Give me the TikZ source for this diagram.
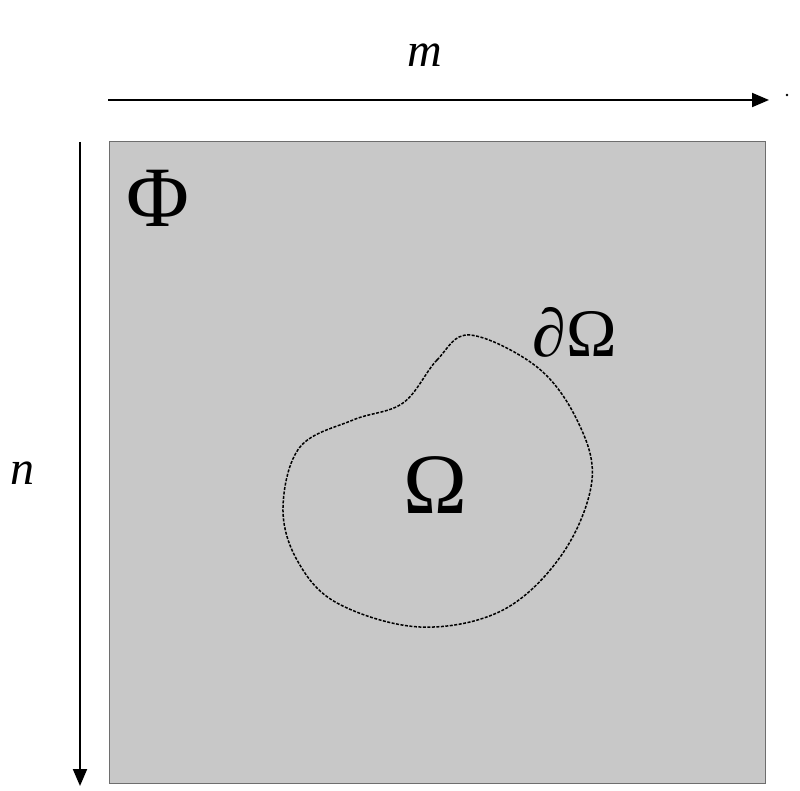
\documentclass[tikz,border=0pt]{standalone}
\usepackage{fontspec}
\setmainfont{Liberation Serif}
\usetikzlibrary{positioning, arrows.meta}
\definecolor{FieldB}{HTML}{C8C8C8}
\definecolor{FieldA}{HTML}{6E6E6E}
\tikzset{
  field/.style={fill=FieldB, draw=FieldA, line width=1pt},
  axis/.style={-{Triangle[length=17pt, width=14pt]}, line width=2pt},
  rim/.style={dash pattern=on 3pt off 1.5pt, line width=1.5pt},
  big/.style={font=\fontsize{86}{86}\selectfont, inner sep=0pt},
  mid/.style={font=\fontsize{68}{68}\selectfont, inner sep=0pt},
  dim/.style={font=\fontsize{48}{48}\selectfont\itshape, inner sep=0pt}
}

\begin{document}
\begin{tikzpicture}[x=1pt, y=-1pt]
  \useasboundingbox (0,0) rectangle (800,791);
  \node[field, minimum width=656pt, minimum height=642pt, anchor=north west, inner sep=0pt] (grid) at (109,141) {};
  % axes
  \coordinate (mA) at (108,100);
  \coordinate (mB) at (769,100);
  \coordinate (nA) at (80,142);
  \coordinate (nB) at (80,786);
  \draw[axis] (mA) -- (mB);
  \draw[axis] (nA) -- (nB);
  \fill (787,95) circle (1.3pt);
  \node[dim] (mlab) at (425,55) {m};
  \node[dim] (nlab) at (22,473) {n};
  % region and its boundary
  \draw[rim] plot[smooth cycle, tension=0.6] coordinates {
    (470,335) (437,360) (403,403) (353,420) (300,447) (283,507) (297,560)
    (337,603) (420,627) (503,610) (563,553) (592,480) (577,420) (537,367)};
  \node[big] (phi) at (158,198) {Φ};
  \node[big] (omega) at (435,485) {Ω};
  \node[mid] (bd) at (575,332) {\textit{∂}Ω};
\end{tikzpicture}
\end{document}
